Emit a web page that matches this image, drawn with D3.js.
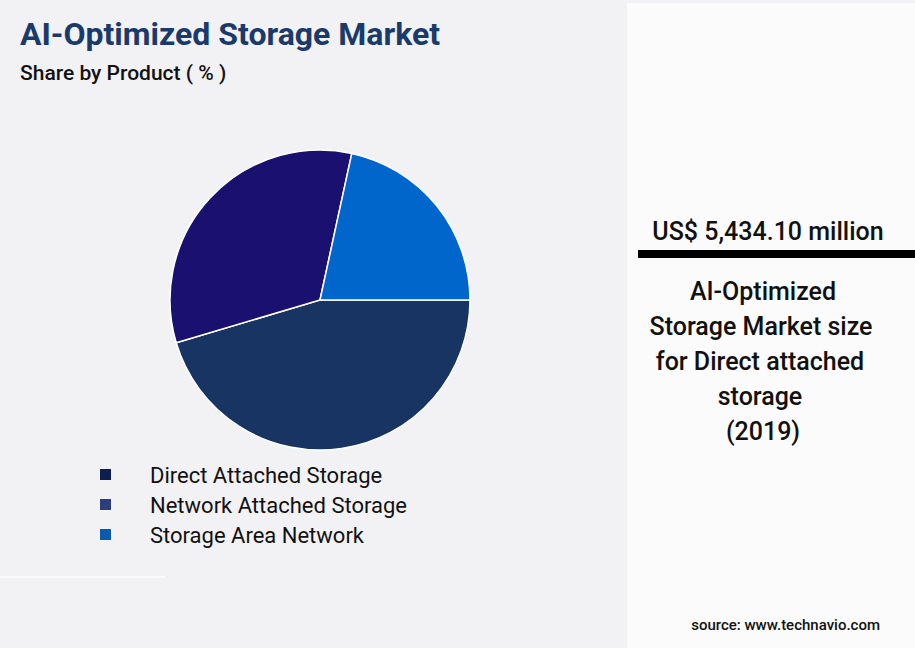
<!DOCTYPE html>
<html><head><meta charset="utf-8">
<script src="https://cdn.jsdelivr.net/npm/d3@7"></script>
<style>body{margin:0;background:#f2f2f5;font-family:Roboto,sans-serif}</style>
</head><body>
<svg id="c" width="915" height="648"></svg>
<script>
const categories = ["Direct Attached Storage", "Network Attached Storage", "Storage Area Network"];
const shares = [45.4, 33.0, 21.6];
const sliceColors = ["#173462", "#1a1070", "#0066cc"];
const legendColors = ["#0d1f4f", "#2b3f7f", "#0a5bb0"];

const svg = d3.select("#c");
svg.append("rect").attr("width",915).attr("height",648).attr("fill","#f2f2f5");
svg.append("rect").attr("x",627).attr("y",3).attr("width",288).attr("height",645).attr("fill","#fbfbfc");
svg.append("line").attr("x1",0).attr("x2",165).attr("y1",577).attr("y2",577).attr("stroke","#fbfbfc").attr("stroke-width",2);

svg.append("text").attr("x",20).attr("y",45).attr("font-size",32).attr("font-weight",700).attr("fill","#1a3a6b").text("AI-Optimized Storage Market");
svg.append("text").attr("x",20).attr("y",80).attr("font-size",21).attr("font-weight",500).attr("fill","#111").text("Share by Product ( % )");

const pie = d3.pie().sort(null).startAngle(Math.PI/2).endAngle(Math.PI/2 + 2*Math.PI);
const arc = d3.arc().innerRadius(0).outerRadius(150);
const g = svg.append("g").attr("transform","translate(320,300)");
g.selectAll("path").data(pie(shares)).join("path")
  .attr("d",arc).attr("fill",(d,i)=>sliceColors[i]).attr("stroke","#fff").attr("stroke-width",1.5);

const lg = svg.append("g");
categories.forEach((c,i)=>{
  const y = 475 + i*30;
  lg.append("rect").attr("x",100).attr("y",y-6).attr("width",11).attr("height",11).attr("fill",legendColors[i]);
  lg.append("text").attr("x",150).attr("y",y+8).attr("font-size",22).attr("fill","#111").text(c);
});

const cx = 768;
svg.append("text").attr("x",cx).attr("y",240).attr("text-anchor","middle").attr("font-size",25).attr("font-weight",500).attr("fill","#111").text("US$ 5,434.10 million");
svg.append("rect").attr("x",638).attr("y",250).attr("width",277).attr("height",8).attr("fill","#000");
["AI-Optimized","Storage Market size","for Direct attached","storage","(2019)"].forEach((t,i)=>{
  svg.append("text").attr("x",[763,761,760,760,763][i]).attr("y",300+i*35).attr("text-anchor","middle").attr("font-size",25).attr("font-weight",500).attr("fill","#111").text(t);
});
svg.append("text").attr("x",880).attr("y",630).attr("text-anchor","end").attr("font-size",15).attr("font-weight",500).attr("fill","#111").text("source: www.technavio.com");
</script>
</body></html>
